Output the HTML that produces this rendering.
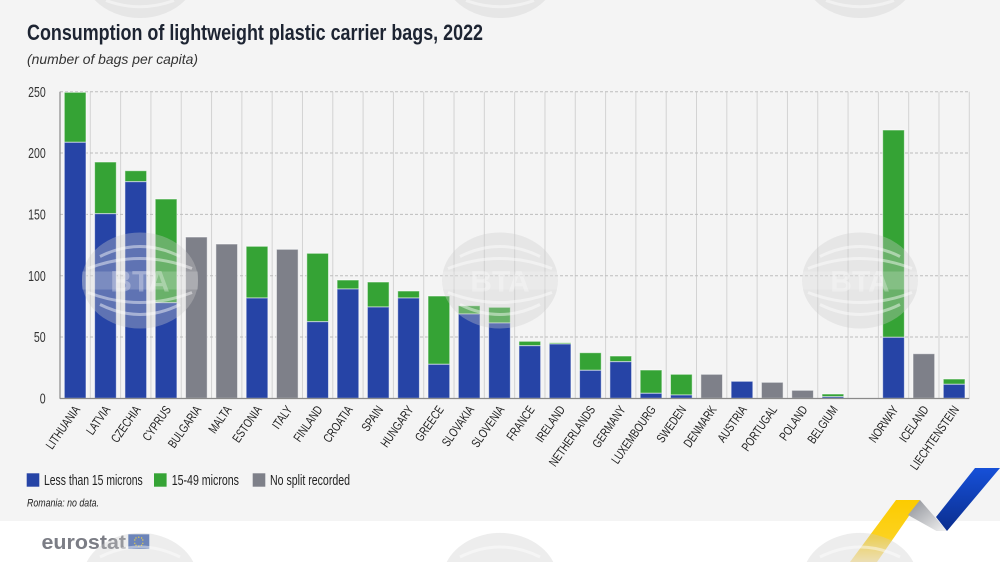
<!DOCTYPE html>
<html><head><meta charset="utf-8"><style>
html,body{margin:0;padding:0;background:#fff;width:1000px;height:562px;overflow:hidden;}
svg{display:block;overflow:hidden;}
text{font-family:"Liberation Sans",sans-serif;}
</style></head><body>
<svg width="1000" height="562" viewBox="0 0 1000 562" xmlns="http://www.w3.org/2000/svg">
<defs>
<linearGradient id="gBlue" x1="0" y1="0" x2="0" y2="1"><stop offset="0" stop-color="#1650d8"/><stop offset="1" stop-color="#0b2e8e"/></linearGradient>
<linearGradient id="gGrey" x1="0" y1="0" x2="1" y2="1"><stop offset="0" stop-color="#8c8f96"/><stop offset="1" stop-color="#f2f2f2"/></linearGradient>
<linearGradient id="gYel" x1="0" y1="0" x2="0" y2="1"><stop offset="0" stop-color="#fccb00"/><stop offset="0.6" stop-color="#fcd21e"/><stop offset="1" stop-color="#fde9a8"/></linearGradient>
<g id="wm">
<ellipse cx="0" cy="0" rx="58" ry="48" fill="rgb(203,203,203)" fill-opacity="0.35"/>
<path d="M-40,-24 Q0,-44 40,-24" fill="none" stroke="#fff" stroke-opacity="0.45" stroke-width="3"/>
<path d="M-52,-12 Q0,-32 52,-12" fill="none" stroke="#fff" stroke-opacity="0.45" stroke-width="3"/>
<path d="M-52,12 Q0,32 52,12" fill="none" stroke="#fff" stroke-opacity="0.45" stroke-width="3"/>
<path d="M-40,24 Q0,44 40,24" fill="none" stroke="#fff" stroke-opacity="0.45" stroke-width="3"/>
<rect x="-58" y="-9" width="116" height="18" fill="#fff" fill-opacity="0.18"/>
<text x="0" y="11" text-anchor="middle" font-size="30" font-weight="bold" fill="#fff" fill-opacity="0.3">BTA</text>
</g>
<g id="wmTop">
<path d="M-45.3,0 A58,48 0 0,0 45.3,0 Z" fill="rgb(203,203,203)" fill-opacity="0.35"/>
<path d="M-34,0.5 Q0,13 34,0.5" fill="none" stroke="#fff" stroke-opacity="0.45" stroke-width="3"/>
</g>
<g id="wmBot">
<path d="M-53.3,562 A58,48 0 0,1 53.3,562 Z" fill="rgb(203,203,203)" fill-opacity="0.35"/>
<path d="M-40,557 Q0,537 40,557" fill="none" stroke="#fff" stroke-opacity="0.45" stroke-width="3"/>
</g>
</defs>

<!-- backgrounds -->
<rect x="0" y="0" width="1000" height="521" fill="#f4f4f4"/>
<rect x="0" y="521" width="1000" height="41" fill="#ffffff"/>

<!-- title -->
<text x="27" y="40" font-size="22" font-weight="bold" fill="#1d2432" textLength="456" lengthAdjust="spacingAndGlyphs">Consumption of lightweight plastic carrier bags, 2022</text>
<text x="27" y="64" font-size="14" font-style="italic" fill="#333" textLength="171" lengthAdjust="spacingAndGlyphs">(number of bags per capita)</text>

<!-- vertical gridlines -->
<g stroke="#d3d3d3" stroke-width="1">
<line x1="90.31" y1="91.7" x2="90.31" y2="398.3"/>
<line x1="120.62" y1="91.7" x2="120.62" y2="398.3"/>
<line x1="150.93" y1="91.7" x2="150.93" y2="398.3"/>
<line x1="181.24" y1="91.7" x2="181.24" y2="398.3"/>
<line x1="211.55" y1="91.7" x2="211.55" y2="398.3"/>
<line x1="241.86" y1="91.7" x2="241.86" y2="398.3"/>
<line x1="272.17" y1="91.7" x2="272.17" y2="398.3"/>
<line x1="302.48" y1="91.7" x2="302.48" y2="398.3"/>
<line x1="332.79" y1="91.7" x2="332.79" y2="398.3"/>
<line x1="363.1" y1="91.7" x2="363.1" y2="398.3"/>
<line x1="393.41" y1="91.7" x2="393.41" y2="398.3"/>
<line x1="423.72" y1="91.7" x2="423.72" y2="398.3"/>
<line x1="454.03" y1="91.7" x2="454.03" y2="398.3"/>
<line x1="484.34" y1="91.7" x2="484.34" y2="398.3"/>
<line x1="514.65" y1="91.7" x2="514.65" y2="398.3"/>
<line x1="544.96" y1="91.7" x2="544.96" y2="398.3"/>
<line x1="575.27" y1="91.7" x2="575.27" y2="398.3"/>
<line x1="605.58" y1="91.7" x2="605.58" y2="398.3"/>
<line x1="635.89" y1="91.7" x2="635.89" y2="398.3"/>
<line x1="666.2" y1="91.7" x2="666.2" y2="398.3"/>
<line x1="696.51" y1="91.7" x2="696.51" y2="398.3"/>
<line x1="726.82" y1="91.7" x2="726.82" y2="398.3"/>
<line x1="757.13" y1="91.7" x2="757.13" y2="398.3"/>
<line x1="787.44" y1="91.7" x2="787.44" y2="398.3"/>
<line x1="817.75" y1="91.7" x2="817.75" y2="398.3"/>
<line x1="848.06" y1="91.7" x2="848.06" y2="398.3"/>
<line x1="878.37" y1="91.7" x2="878.37" y2="398.3"/>
<line x1="908.68" y1="91.7" x2="908.68" y2="398.3"/>
<line x1="938.99" y1="91.7" x2="938.99" y2="398.3"/>
<line x1="969.3" y1="91.7" x2="969.3" y2="398.3"/>
</g>
<!-- horizontal dashed gridlines -->
<g stroke="#bdbdbd" stroke-width="1" stroke-dasharray="3,2">
<line x1="60" y1="91.7" x2="969.3" y2="91.7"/>
<line x1="60" y1="153" x2="969.3" y2="153"/>
<line x1="60" y1="214.4" x2="969.3" y2="214.4"/>
<line x1="60" y1="275.7" x2="969.3" y2="275.7"/>
<line x1="60" y1="337" x2="969.3" y2="337"/>
</g>

<!-- y labels -->
<g font-size="14.5" fill="#333" text-anchor="end">
<text x="45.7" y="97.2" textLength="17.6" lengthAdjust="spacingAndGlyphs">250</text>
<text x="45.7" y="158.2" textLength="17.6" lengthAdjust="spacingAndGlyphs">200</text>
<text x="45.7" y="219.6" textLength="17.6" lengthAdjust="spacingAndGlyphs">150</text>
<text x="45.7" y="281" textLength="17.6" lengthAdjust="spacingAndGlyphs">100</text>
<text x="45.7" y="342.2" textLength="11.8" lengthAdjust="spacingAndGlyphs">50</text>
<text x="45.7" y="403.5" textLength="5.9" lengthAdjust="spacingAndGlyphs">0</text>
</g>

<!-- bars -->
<g stroke="#ffffff" stroke-opacity="0.55" stroke-width="1">
<rect x="64.3" y="92.3" width="21.7" height="50" fill="#35a335"/><rect x="64.3" y="142.3" width="21.7" height="256" fill="#2644a6"/>
<rect x="94.61" y="162" width="21.7" height="51.7" fill="#35a335"/><rect x="94.61" y="213.7" width="21.7" height="184.6" fill="#2644a6"/>
<rect x="124.92" y="170.7" width="21.7" height="11" fill="#35a335"/><rect x="124.92" y="181.7" width="21.7" height="216.6" fill="#2644a6"/>
<rect x="155.23" y="199" width="21.7" height="103.7" fill="#35a335"/><rect x="155.23" y="302.7" width="21.7" height="95.6" fill="#2644a6"/>
<rect x="185.54" y="237" width="21.7" height="161.3" fill="#7e8089"/>
<rect x="215.85" y="244" width="21.7" height="154.3" fill="#7e8089"/>
<rect x="246.16" y="246.3" width="21.7" height="51.7" fill="#35a335"/><rect x="246.16" y="298" width="21.7" height="100.3" fill="#2644a6"/>
<rect x="276.47" y="249.3" width="21.7" height="149" fill="#7e8089"/>
<rect x="306.78" y="253.3" width="21.7" height="68.4" fill="#35a335"/><rect x="306.78" y="321.7" width="21.7" height="76.6" fill="#2644a6"/>
<rect x="337.09" y="280" width="21.7" height="9" fill="#35a335"/><rect x="337.09" y="289" width="21.7" height="109.3" fill="#2644a6"/>
<rect x="367.4" y="282" width="21.7" height="25" fill="#35a335"/><rect x="367.4" y="307" width="21.7" height="91.3" fill="#2644a6"/>
<rect x="397.71" y="291" width="21.7" height="7" fill="#35a335"/><rect x="397.71" y="298" width="21.7" height="100.3" fill="#2644a6"/>
<rect x="428.02" y="296" width="21.7" height="68.3" fill="#35a335"/><rect x="428.02" y="364.3" width="21.7" height="34" fill="#2644a6"/>
<rect x="458.33" y="305.7" width="21.7" height="8.3" fill="#35a335"/><rect x="458.33" y="314" width="21.7" height="84.3" fill="#2644a6"/>
<rect x="488.64" y="307.3" width="21.7" height="15.7" fill="#35a335"/><rect x="488.64" y="323" width="21.7" height="75.3" fill="#2644a6"/>
<rect x="518.95" y="341.3" width="21.7" height="4.4" fill="#35a335"/><rect x="518.95" y="345.7" width="21.7" height="52.6" fill="#2644a6"/>
<rect x="549.26" y="342.7" width="21.7" height="1.3" fill="#35a335"/><rect x="549.26" y="344" width="21.7" height="54.3" fill="#2644a6"/>
<rect x="579.57" y="352.7" width="21.7" height="17.6" fill="#35a335"/><rect x="579.57" y="370.3" width="21.7" height="28" fill="#2644a6"/>
<rect x="609.88" y="356" width="21.7" height="5.7" fill="#35a335"/><rect x="609.88" y="361.7" width="21.7" height="36.6" fill="#2644a6"/>
<rect x="640.19" y="370" width="21.7" height="23.3" fill="#35a335"/><rect x="640.19" y="393.3" width="21.7" height="5" fill="#2644a6"/>
<rect x="670.5" y="374.3" width="21.7" height="20.7" fill="#35a335"/><rect x="670.5" y="395" width="21.7" height="3.3" fill="#2644a6"/>
<rect x="700.81" y="374.3" width="21.7" height="24" fill="#7e8089"/>
<rect x="731.12" y="381.3" width="21.7" height="17" fill="#2644a6"/>
<rect x="761.43" y="382.3" width="21.7" height="16" fill="#7e8089"/>
<rect x="791.74" y="390.3" width="21.7" height="8" fill="#7e8089"/>
<rect x="822.05" y="394" width="21.7" height="2.7" fill="#35a335"/><rect x="822.05" y="396.7" width="21.7" height="1.6" fill="#2644a6"/>
<rect x="882.67" y="130" width="21.7" height="207.3" fill="#35a335"/><rect x="882.67" y="337.3" width="21.7" height="61" fill="#2644a6"/>
<rect x="912.98" y="353.7" width="21.7" height="44.6" fill="#7e8089"/>
<rect x="943.29" y="379" width="21.7" height="5.3" fill="#35a335"/><rect x="943.29" y="384.3" width="21.7" height="14" fill="#2644a6"/>
</g>

<!-- axes -->
<line x1="60" y1="91.7" x2="60" y2="398.8" stroke="#8a8a8a" stroke-width="1.2"/>
<line x1="60" y1="398.5" x2="969.3" y2="398.5" stroke="#8a8a8a" stroke-width="1.2"/>

<!-- x labels -->
<g font-size="12.5" fill="#222" text-anchor="end">
<text transform="translate(80.6,409.5) rotate(-55) scale(0.76,1)">LITHUANIA</text>
<text transform="translate(110.9,409.5) rotate(-55) scale(0.76,1)">LATVIA</text>
<text transform="translate(141.2,409.5) rotate(-55) scale(0.76,1)">CZECHIA</text>
<text transform="translate(171.5,409.5) rotate(-55) scale(0.76,1)">CYPRUS</text>
<text transform="translate(201.8,409.5) rotate(-55) scale(0.76,1)">BULGARIA</text>
<text transform="translate(232.1,409.5) rotate(-55) scale(0.76,1)">MALTA</text>
<text transform="translate(262.4,409.5) rotate(-55) scale(0.76,1)">ESTONIA</text>
<text transform="translate(292.7,409.5) rotate(-55) scale(0.76,1)">ITALY</text>
<text transform="translate(323.0,409.5) rotate(-55) scale(0.76,1)">FINLAND</text>
<text transform="translate(353.3,409.5) rotate(-55) scale(0.76,1)">CROATIA</text>
<text transform="translate(383.7,409.5) rotate(-55) scale(0.76,1)">SPAIN</text>
<text transform="translate(414.0,409.5) rotate(-55) scale(0.76,1)">HUNGARY</text>
<text transform="translate(444.3,409.5) rotate(-55) scale(0.76,1)">GREECE</text>
<text transform="translate(474.6,409.5) rotate(-55) scale(0.76,1)">SLOVAKIA</text>
<text transform="translate(504.9,409.5) rotate(-55) scale(0.76,1)">SLOVENIA</text>
<text transform="translate(535.2,409.5) rotate(-55) scale(0.76,1)">FRANCE</text>
<text transform="translate(565.5,409.5) rotate(-55) scale(0.76,1)">IRELAND</text>
<text transform="translate(595.8,409.5) rotate(-55) scale(0.76,1)">NETHERLANDS</text>
<text transform="translate(626.1,409.5) rotate(-55) scale(0.76,1)">GERMANY</text>
<text transform="translate(656.4,409.5) rotate(-55) scale(0.76,1)">LUXEMBOURG</text>
<text transform="translate(686.7,409.5) rotate(-55) scale(0.76,1)">SWEDEN</text>
<text transform="translate(717.1,409.5) rotate(-55) scale(0.76,1)">DENMARK</text>
<text transform="translate(747.4,409.5) rotate(-55) scale(0.76,1)">AUSTRIA</text>
<text transform="translate(777.7,409.5) rotate(-55) scale(0.76,1)">PORTUGAL</text>
<text transform="translate(808.0,409.5) rotate(-55) scale(0.76,1)">POLAND</text>
<text transform="translate(838.3,409.5) rotate(-55) scale(0.76,1)">BELGIUM</text>
<text transform="translate(898.9,409.5) rotate(-55) scale(0.76,1)">NORWAY</text>
<text transform="translate(929.2,409.5) rotate(-55) scale(0.76,1)">ICELAND</text>
<text transform="translate(959.5,409.5) rotate(-55) scale(0.76,1)">LIECHTENSTEIN</text>
</g>

<!-- legend -->
<rect x="26.7" y="473.3" width="12.6" height="13.4" fill="#2644a6"/>
<text x="44" y="485" font-size="14.5" fill="#222" textLength="98.7" lengthAdjust="spacingAndGlyphs">Less than 15 microns</text>
<rect x="154" y="473.3" width="12.6" height="13.4" fill="#35a335"/>
<text x="171.7" y="485" font-size="14.5" fill="#222" textLength="67.3" lengthAdjust="spacingAndGlyphs">15-49 microns</text>
<rect x="252.7" y="473.3" width="12.6" height="13.4" fill="#7e8089"/>
<text x="270" y="485" font-size="14.5" fill="#222" textLength="80" lengthAdjust="spacingAndGlyphs">No split recorded</text>

<text x="27" y="506.5" font-size="11" font-style="italic" fill="#222" textLength="72" lengthAdjust="spacingAndGlyphs">Romania: no data.</text>

<!-- eurostat logo -->
<text x="41.5" y="549" font-size="20" font-weight="bold" fill="#7b7d85" textLength="84.5" lengthAdjust="spacingAndGlyphs">eurostat</text>
<rect x="128.3" y="534.3" width="21" height="14.7" fill="#3a5fb0"/>
<g fill="#f5d000">
<circle cx="138.8" cy="537.2" r="0.7"/><circle cx="141.6" cy="538.0" r="0.7"/><circle cx="142.8" cy="540.0" r="0.7"/><circle cx="142.8" cy="543.3" r="0.7"/><circle cx="141.6" cy="545.3" r="0.7"/><circle cx="138.8" cy="546.1" r="0.7"/><circle cx="136.0" cy="545.3" r="0.7"/><circle cx="134.8" cy="543.3" r="0.7"/><circle cx="134.8" cy="540.0" r="0.7"/><circle cx="136.0" cy="538.0" r="0.7"/>
</g>

<!-- ribbon decoration -->
<polygon points="896,500 920,500 877,562 850,562" fill="url(#gYel)"/>
<polygon points="920,500 947,531 936.5,531 908,515" fill="url(#gGrey)"/>
<polygon points="975,468 1000,468 947,531 936,517" fill="url(#gBlue)"/>

<!-- watermarks -->
<use href="#wmTop" x="140" y="0"/>
<use href="#wmTop" x="500" y="0"/>
<use href="#wmTop" x="860" y="0"/>
<use href="#wm" x="140" y="280.5"/>
<use href="#wm" x="500" y="280.5"/>
<use href="#wm" x="860" y="280.5"/>
<use href="#wmBot" x="140" y="0"/>
<use href="#wmBot" x="500" y="0"/>
<use href="#wmBot" x="860" y="0"/>
</svg>
</body></html>
